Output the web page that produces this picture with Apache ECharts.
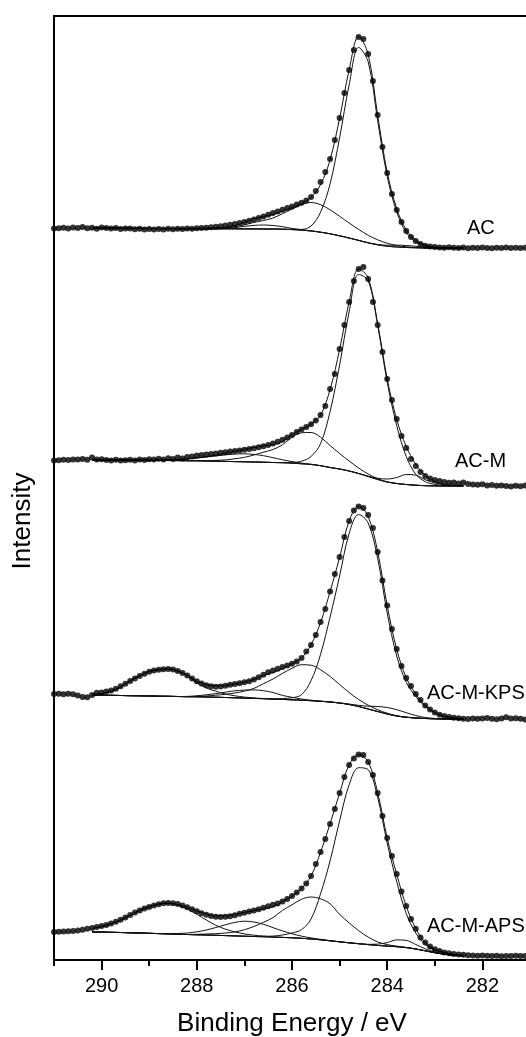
<!DOCTYPE html>
<html>
<head>
<meta charset="utf-8">
<title>C1s XPS</title>
<script src="https://cdn.jsdelivr.net/npm/echarts@6.0.0/dist/echarts.min.js"></script>
<style>
  html, body { margin: 0; padding: 0; background: #fff; }
  #chart { width: 526px; height: 1037px; }
</style>
</head>
<body>
<div id="chart"></div>
<script>
// axis ticks (binding energy, eV)
const evenTicks = [290, 288, 286, 284, 282];
const oddTicks = [291, 289, 287, 285, 283, 281];

// measured points: 291.0 -> 281.0 eV, one every 0.1 eV
// (height above the flat right-hand tail of each spectrum)
const acDots = [
  19.5, 19.8, 20.2, 19.6, 20.4, 20.0, 21.0, 19.8, 20.3, 19.2, 20.6,
  20.0, 19.6, 19.9, 19.0, 19.4, 19.6, 18.8, 19.2, 18.6, 19.0,
  18.4, 19.0, 18.6, 19.2, 18.8, 19.3, 19.0, 19.5, 19.2, 19.8,
  20.0, 20.3, 20.7, 21.2, 21.7, 22.4, 23.2, 24.0, 25.0, 26.0,
  27.2, 28.5, 30.0, 31.5, 33.2, 35.0, 36.6, 38.2, 40.0, 41.6,
  43.5, 45.3, 47.5, 51, 57, 66, 76, 89, 108, 130,
  155, 178, 198, 211, 209, 194, 167, 133, 101, 75,
  54, 38, 26, 17, 11, 7, 4, 2.2, 1.5, 1.0,
  0.5, 0.3, 0.8, 0.2, 0, 0.4, -0.2, 0.3, 0, 0.5, 0.1, -0.3, 0.2, 0, 0.4, -0.1, 0.2, 0, 0.3, -0.2
];
const acmDots = [
  25.5, 25.8, 26.3, 26.0, 26.6, 26.4, 27.0, 26.2, 28.6, 26.5, 26.8,
  26.0, 25.6, 26.2, 25.4, 25.8, 26.3, 25.5, 26.5, 25.9, 26.8,
  26.4, 27.2, 26.6, 27.8, 27.0, 28.4, 27.5, 28.9, 29.6, 30.4,
  31.0, 31.6, 32.0, 32.5, 33.3, 33.8, 34.4, 35.0, 35.6, 36.3,
  37.0, 37.8, 38.8, 39.8, 41.0, 42.5, 44.3, 46.2, 48.4, 51.0,
  54.0, 56.5, 59.0, 61.8, 65.5, 71, 80, 97, 112, 137,
  161, 184, 205, 217, 219, 207, 184, 161, 134, 107,
  86, 67, 50, 38, 27, 20, 14, 10, 7.5, 6,
  5, 4, 3.2, 3.6, 2.5, 3.4, 2.0, 1.5, 1.2, 1.8, 0.6, 0.9, 0.2, 0.5, 0, -0.4, 0.3, -0.2, 0.4, 0
];
const kpsDots = [
  25.0, 25.3, 24.8, 25.3, 24.8, 23.6, 22.0, 21.8, 24.0, 26.2, 26.6,
  27.5, 28.5, 30.3, 32.8, 35.3, 38.0, 40.5, 43.0, 45.3, 47.3,
  48.5, 49.2, 49.8, 50.0, 49.5, 48.0, 46.0, 43.5, 40.5, 37.8,
  35.6, 33.8, 32.8, 32.3, 32.5, 33.3, 34.2, 35.0, 35.8, 36.8,
  37.8, 39.5, 41.8, 44.3, 46.8, 48.6, 50.2, 52.0, 53.5, 55.2,
  57.5, 61, 67.5, 74, 84, 97, 110, 127.5, 145, 162,
  182, 198, 208.5, 212.5, 211, 204, 191, 167, 138.5, 113.5,
  90, 70, 53, 41, 33, 25, 19, 13.5, 9.5, 6.5,
  4.3, 3.0, 2.0, 1.2, 0.8, 0.3, 0, 0.5, 0.2, 0.6, 1.0, 0.3, -0.3, 0.5, 1.8, 0.4, 0.8, 0.2, -0.6, 0.1
];
const apsDots = [
  24.0, 24.3, 24.5, 24.8, 25.0, 25.5, 26.3, 27.2, 28.0, 29.0, 30.0,
  31.0, 32.6, 34.3, 36.3, 38.5, 41.0, 43.5, 45.5, 47.5, 49.0,
  50.5, 51.8, 52.7, 53.0, 52.8, 52.0, 50.5, 48.8, 46.7, 44.7,
  42.8, 41.3, 40.0, 39.3, 39.0, 39.2, 39.8, 40.7, 42.2, 43.3,
  44.5, 45.5, 46.8, 48.2, 49.8, 51.2, 52.5, 54.5, 57, 60,
  63.5, 67.5, 72.5, 80, 92, 104, 117, 132, 147, 163,
  179, 191, 197.5, 201.5, 201, 194, 181, 163, 140, 118,
  100, 82, 64.5, 50, 37, 27.3, 18.5, 13.5, 9.5, 6.7,
  5.0, 3.6, 2.7, 2.0, 1.6, 1.2, 0.8, 0.5, 0.3, 0.5, 0.2, 0, 0.3, -0.2, 0.1, 0, 0.2, -0.1, 0, 0.1
];

// fitted curves: 290.2 -> 282.4 eV, one every 0.2 eV
// background, then each component as height above the background
const acBase = [19.8, 19.8, 19.7, 19.7, 19.6, 19.6, 19.5, 19.5, 19.4, 19.4, 19.3, 19.3, 19.3, 19.2, 19.2, 19.2, 19.1, 19.1, 19.0, 19.0, 18.8, 18.4, 17.8, 17.0, 15.8, 14.2, 12.2, 10.0, 7.6, 5.2, 3.2, 1.8, 1.0, 0.5, 0.2, 0, 0, 0, 0, 0];
const acMain = [0, 0, 0, 0, 0, 0, 0, 0, 0, 0, 0, 0, 0, 0, 0, 0, 0, 0, 0, 0, 0, 0.2, 0.8, 5, 20, 50, 98, 153, 193, 181, 124, 70, 35, 15, 6, 2, 0.6, 0.2, 0, 0];
const acC2 = [0, 0, 0, 0, 0, 0, 0, 0, 0, 0, 0, 0.2, 0.4, 0.7, 1, 2, 4, 6.5, 8.5, 11, 15.5, 20.5, 25.5, 28.5, 27.5, 24, 19.5, 15, 11, 7.5, 5, 3, 1.5, 0.7, 0.3, 0.1, 0, 0, 0, 0];
const acC3 = [0, 0, 0, 0, 0, 0, 0, 0, 0, 0, 0, 0, 0, 0.2, 0.5, 1.2, 2.5, 3.5, 4, 3.5, 2.5, 1.2, 0.5, 0.2, 0, 0, 0, 0, 0, 0, 0, 0, 0, 0, 0, 0, 0, 0, 0, 0];
const acC4 = [0, 0, 0, 0, 0, 0, 0, 0, 0, 0, 0, 0, 0, 0, 0, 0, 0, 0, 0, 0, 0, 0, 0, 0, 0, 0, 0, 0, 0, 0, 0.3, 1, 1.8, 2, 1.5, 0.8, 0.3, 0.1, 0, 0];

const acmBase = [26.0, 26.0, 25.9, 25.9, 25.8, 25.8, 25.7, 25.6, 25.5, 25.4, 25.3, 25.2, 25.0, 24.8, 24.6, 24.4, 24.2, 24.0, 23.8, 23.5, 23.2, 22.8, 22.2, 21.5, 20.3, 18.5, 17.0, 15.0, 12.5, 9.5, 6.5, 4.0, 2.5, 1.5, 0.8, 0.3, 0.1, 0, 0, 0];
const acmMain = [0, 0, 0, 0, 0, 0, 0, 0, 0, 0, 0, 0, 0, 0, 0, 0, 0, 0, 0, 0, 0.3, 0.8, 2.6, 8, 22, 56, 104, 159, 199, 196, 154, 100, 58, 28, 11, 4, 1.5, 0.5, 0.2, 0];
const acmC2 = [0, 0, 0, 0, 0, 0, 0, 0, 0, 0, 0, 0.2, 0.3, 0.8, 1.5, 2.8, 4.5, 7, 10, 13, 18, 26, 31, 32, 28.5, 22, 15.5, 10, 5.5, 2.5, 0.8, 0.2, 0, 0, 0, 0, 0, 0, 0, 0];
const acmC3 = [0, 0, 0, 0, 0, 0, 0, 0.2, 0.5, 1, 1.8, 2.8, 4, 5.3, 6.5, 7.5, 8, 7.6, 6.5, 4.8, 3, 1.6, 0.7, 0.3, 0, 0, 0, 0, 0, 0, 0, 0, 0, 0, 0, 0, 0, 0, 0, 0];
const acmC4 = [0, 0, 0, 0, 0, 0, 0, 0, 0, 0, 0, 0, 0, 0, 0, 0, 0, 0, 0, 0, 0, 0, 0, 0, 0, 0, 0, 0, 0, 0.3, 1.2, 3, 6, 10, 10, 6, 3, 1.2, 0.4, 0.1];

const kpsBase = [24, 23.8, 23.7, 23.5, 23.3, 23.2, 23.0, 22.8, 22.7, 22.5, 22.3, 22.2, 22.0, 21.8, 21.5, 21.2, 20.9, 20.6, 20.3, 20.0, 19.6, 19.2, 18.8, 18.3, 17.7, 17.0, 16.0, 14.5, 12.5, 10.0, 7.5, 5.0, 3.0, 1.8, 1.0, 0.5, 0.2, 0, 0, 0];
const kpsC1 = [0.5, 1.5, 4, 8.5, 15, 20, 24.5, 26.5, 27.3, 25.5, 21, 14, 9, 6, 3.5, 2, 1, 0.5, 0.2, 0, 0, 0, 0, 0, 0, 0, 0, 0, 0, 0, 0, 0, 0, 0, 0, 0, 0, 0, 0, 0];
const kpsC5 = [0, 0, 0, 0, 0, 0, 0, 0, 0, 0, 0.3, 1, 2.2, 3.6, 5.3, 7, 8, 8.5, 8, 6.5, 4, 2.5, 1.2, 0.5, 0.2, 0, 0, 0, 0, 0, 0, 0, 0, 0, 0, 0, 0, 0, 0, 0];
const kpsC2 = [0, 0, 0, 0, 0, 0, 0, 0, 0, 0, 0, 0.5, 1, 2, 3.2, 4.8, 7, 10, 15, 20, 26, 31.5, 35.5, 35.5, 31.5, 25.5, 18.5, 12, 7, 3.8, 1.8, 0.8, 0.3, 0, 0, 0, 0, 0, 0, 0];
const kpsMain = [0, 0, 0, 0, 0, 0, 0, 0, 0, 0, 0, 0, 0, 0, 0, 0, 0, 0, 0, 0, 0.8, 2, 5.5, 20, 47, 85, 127, 171, 192, 186, 153, 101, 60, 35, 21.5, 12, 6, 2.5, 1, 0.3];
const kpsC4 = [0, 0, 0, 0, 0, 0, 0, 0, 0, 0, 0, 0, 0, 0, 0, 0, 0, 0, 0, 0, 0, 0, 0, 0, 0, 0, 0, 0.5, 1.2, 2.8, 5, 6.5, 6.3, 4.5, 2.5, 1, 0.4, 0.1, 0, 0];

const apsBase = [24, 23.9, 23.7, 23.5, 23.2, 23.0, 22.7, 22.4, 22.1, 21.8, 21.5, 21.2, 21.0, 20.7, 20.4, 20.1, 19.8, 19.5, 19.2, 18.9, 18.6, 18.2, 17.7, 17.0, 16.2, 15.2, 14.2, 13.2, 12.3, 11.4, 10.6, 9.9, 9.3, 8.4, 7.0, 5.2, 3.3, 1.8, 0.8, 0.3];
const apsC1 = [3.5, 5.5, 8.5, 12.5, 17.5, 22.5, 26.5, 29.5, 30.5, 29, 25.5, 20.5, 15, 10, 6.5, 4, 2.3, 1.3, 0.7, 0.3, 0, 0, 0, 0, 0, 0, 0, 0, 0, 0, 0, 0, 0, 0, 0, 0, 0, 0, 0, 0];
const apsC5 = [0, 0, 0, 0, 0, 0, 0, 0, 0.3, 0.7, 1.5, 3, 5, 7.8, 10.8, 13.5, 15, 14.5, 12.5, 9.5, 6.5, 4, 2.2, 1.1, 0.5, 0.2, 0, 0, 0, 0, 0, 0, 0, 0, 0, 0, 0, 0, 0, 0];
const apsC2 = [0, 0, 0, 0, 0, 0, 0, 0, 0, 0, 0, 0.5, 1, 1.6, 2.6, 4, 6.5, 10, 14.5, 19.5, 27, 33, 39, 42, 41, 37, 27.5, 20, 13, 7.5, 3.5, 1.5, 0.6, 0.2, 0, 0, 0, 0, 0, 0];
const apsMain = [0, 0, 0, 0, 0, 0, 0, 0, 0, 0, 0, 0, 0, 0, 0, 0, 0, 0, 0.5, 1, 2.4, 4.8, 8.6, 20, 46, 80, 121, 158, 176, 175, 148, 103, 65, 34, 16, 6.3, 2.7, 1.6, 0.6, 0.3];
const apsC4 = [0, 0, 0, 0, 0, 0, 0, 0, 0, 0, 0, 0, 0, 0, 0, 0, 0, 0, 0, 0, 0, 0, 0, 0, 0, 0, 0, 0, 0, 0.3, 1.3, 3.5, 6.8, 7.2, 4.5, 2, 0.7, 0.2, 0, 0];

const sampleNames = ['AC', 'AC-M', 'AC-M-KPS', 'AC-M-APS'];

// energy grids the values above were read on
const dotEnergies = Array.from({ length: 101 }, (_, i) => Math.round((291 - 0.1 * i) * 10) / 10);
const fitEnergies = Array.from({ length: 40 }, (_, i) => Math.round((290.2 - 0.2 * i) * 10) / 10);

const spectra = [
  { dots: acDots, base: acBase, peaks: [acMain, acC2, acC3, acC4] },
  { dots: acmDots, base: acmBase, peaks: [acmMain, acmC2, acmC3, acmC4] },
  { dots: kpsDots, base: kpsBase, peaks: [kpsC1, kpsC5, kpsC2, kpsMain, kpsC4] },
  { dots: apsDots, base: apsBase, peaks: [apsC1, apsC5, apsC2, apsMain, apsC4] }
];
// vertical stacking of the four spectra
const shifts = [712, 474, 241, 4];

const font = '"Liberation Sans", Arial, sans-serif';
const lineColor = '#111';

const series = [];
spectra.forEach((s, k) => {
  const shift = shifts[k];
  const fitLine = vals => ({
    type: 'line',
    name: sampleNames[k],
    data: fitEnergies.map((e, i) => [e, vals[i] + shift]),
    showSymbol: false,
    smooth: 0.35,
    silent: true,
    lineStyle: { color: lineColor, width: 1 },
    z: 2
  });
  series.push(fitLine(s.base));
  s.peaks.forEach(p => series.push(fitLine(s.base.map((b, i) => b + p[i]))));
  // envelope = background + all components
  series.push(fitLine(s.base.map((b, i) => b + s.peaks.reduce((t, p) => t + p[i], 0))));
  series.push({
    type: 'scatter',
    name: sampleNames[k],
    data: dotEnergies.map((e, i) => [e, s.dots[i] + shift]),
    symbol: 'circle',
    symbolSize: 6,
    itemStyle: { color: '#000' },
    z: 3
  });
});

const labelPos = [[467, 228], [455, 461], [427, 693], [427, 926]];

const chart = echarts.init(document.getElementById('chart'));
chart.setOption({
  animation: false,
  backgroundColor: '#fff',
  grid: {
    left: 54, right: -4, top: 16, bottom: 77,
    outerBoundsMode: 'none',
    show: true, borderColor: '#000', borderWidth: 2
  },
  xAxis: [
    {
      type: 'value', min: 281, max: 291, inverse: true,
      name: 'Binding Energy / eV', nameLocation: 'middle', nameGap: 51,
      nameTextStyle: { fontSize: 26, color: '#000', fontFamily: font },
      axisLine: { lineStyle: { color: '#000', width: 2 } },
      axisTick: { customValues: evenTicks, length: 10, lineStyle: { color: '#000', width: 2 } },
      axisLabel: { customValues: evenTicks, margin: 16, fontSize: 20, color: '#000', fontFamily: font },
      splitLine: { show: false }
    },
    {
      type: 'value', min: 281, max: 291, inverse: true, position: 'bottom', offset: 0,
      axisLine: { show: false },
      axisTick: { customValues: oddTicks, length: 6, lineStyle: { color: '#000', width: 2 } },
      axisLabel: { show: false },
      splitLine: { show: false }
    }
  ],
  yAxis: {
    type: 'value', min: 0, max: 944,
    axisLine: { show: true, lineStyle: { color: '#000', width: 2 } },
    axisTick: { show: false },
    axisLabel: { show: false },
    splitLine: { show: false }
  },
  graphic: sampleNames.map((n, k) => ({
    type: 'text', x: labelPos[k][0], y: labelPos[k][1], z: 10,
    style: { text: n, fontSize: 20, fontFamily: font, fill: '#000', align: 'left', verticalAlign: 'middle' }
  })).concat([{
    type: 'text', x: 23, y: 521, rotation: Math.PI / 2, z: 10,
    style: { text: 'Intensity', fontSize: 26, fontFamily: font, fill: '#000', align: 'center', verticalAlign: 'middle' }
  }]),
  series
});
</script>
</body>
</html>
